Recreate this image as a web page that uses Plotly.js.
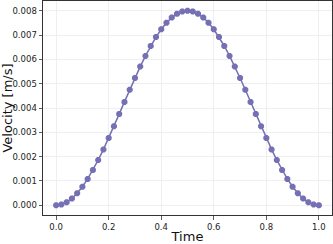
<!DOCTYPE html>
<html><head><meta charset="utf-8">
<script src="https://cdn.plot.ly/plotly-3.0.1.min.js"></script>
<style>html,body{margin:0;padding:0;background:#fff}#c{width:333px;height:244px}</style>
</head><body><div id="c"></div>
<script>
const time = [0.00,0.02,0.04,0.06,0.08,0.10,0.12,0.14,0.16,0.18,0.20,0.22,0.24,0.26,0.28,0.30,0.32,0.34,0.36,0.38,0.40,0.42,0.44,0.46,0.48,0.50,
  0.52,0.54,0.56,0.58,0.60,0.62,0.64,0.66,0.68,0.70,0.72,0.74,0.76,0.78,0.80,0.82,0.84,0.86,0.88,0.90,0.92,0.94,0.96,0.98,1.00];
const velocity = [0.0000000,0.0000315,0.0001257,0.0002809,0.0004948,0.0007639,0.0010841,0.0014503,0.0018567,0.0022969,0.0027639,
  0.0032505,0.0037489,0.0042511,0.0047495,0.0052361,0.0057031,0.0061433,0.0065497,0.0069159,0.0072361,0.0075052,0.0077191,
  0.0078743,0.0079685,0.0080000,0.0079685,0.0078743,0.0077191,0.0075052,0.0072361,0.0069159,0.0065497,0.0061433,0.0057031,
  0.0052361,0.0047495,0.0042511,0.0037489,0.0032505,0.0027639,0.0022969,0.0018567,0.0014503,0.0010841,0.0007639,0.0004948,
  0.0002809,0.0001257,0.0000315,0.0000000];
const xTicks = [0.0,0.2,0.4,0.6,0.8,1.0];
const xTickText = ["0.0","0.2","0.4","0.6","0.8","1.0"];
const yTicks = [0.000,0.001,0.002,0.003,0.004,0.005,0.006,0.007,0.008];
const yTickText = ["0.000","0.001","0.002","0.003","0.004","0.005","0.006","0.007","0.008"];

const font = "DejaVu Sans, sans-serif";
Plotly.newPlot("c", [{
  x: time, y: velocity, type: "scatter", mode: "lines+markers",
  line: {color: "#7570b3", width: 1.5},
  marker: {symbol: "octagon", size: 6.5, color: "#7570b3"},
  hoverinfo: "skip"
}], {
  width: 333, height: 244,
  margin: {l: 43, r: 1, t: 1, b: 29, pad: 0},
  paper_bgcolor: "#fff", plot_bgcolor: "#fff",
  showlegend: false,
  font: {family: font, size: 8.5, color: "#222"},
  xaxis: {
    range: [-0.05, 1.05], tickvals: xTicks, ticktext: xTickText,
    showgrid: true, gridcolor: "#ebebeb", gridwidth: 0.8,
    zeroline: false, showline: true, linecolor: "#333", linewidth: 1, mirror: true,
    ticks: "outside", ticklen: 3.5, tickcolor: "#333", tickwidth: 0.8,
    tickfont: {family: font, size: 8.5, color: "#222"},
    title: {text: "Time", font: {family: font, size: 13, color: "#111"}, standoff: 4}
  },
  yaxis: {
    range: [-0.0004, 0.0084], tickvals: yTicks, ticktext: yTickText,
    showgrid: true, gridcolor: "#ebebeb", gridwidth: 0.8,
    zeroline: false, showline: true, linecolor: "#333", linewidth: 1, mirror: true,
    ticks: "outside", ticklen: 3.5, tickcolor: "#333", tickwidth: 0.8,
    tickfont: {family: font, size: 8.5, color: "#222"},
    title: {text: "Velocity [m/s]", font: {family: font, size: 13, color: "#111"}, standoff: 5}
  }
}, {displayModeBar: false, staticPlot: true});
</script>
</body></html>
